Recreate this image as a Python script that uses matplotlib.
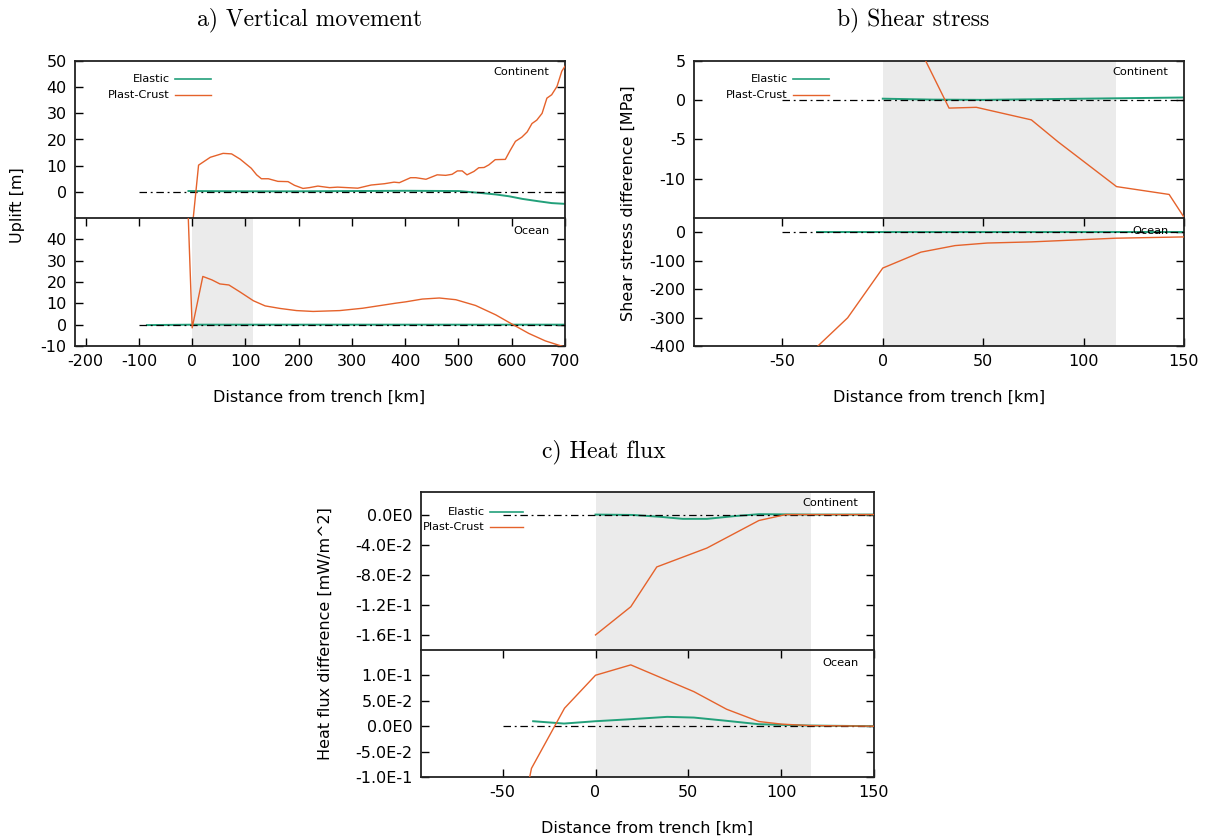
import numpy as np
import matplotlib
matplotlib.use("Agg")
import matplotlib.pyplot as plt

plt.rcParams['axes.unicode_minus'] = False
plt.rcParams['font.family'] = ['DejaVu Sans']

GREEN = '#22a07a'
ORANGE = '#e5622b'
SHADE = '#ebebeb'

# a) vertical movement [m]
a_cont_plast_x = [1, 12, 34, 58, 74, 90, 111, 121, 130, 143, 161, 180, 192, 208, 220, 236, 258, 273, 292, 311,
                  336, 361, 379, 389, 410, 420, 439, 460, 476, 488, 498, 507, 516, 529, 538, 548, 557, 569, 588, 597,
                  607, 619, 629, 638, 647, 657, 666, 675, 685, 694, 700]
a_cont_plast_y = [-12, 10.2, 13.2, 14.7, 14.5, 12.5, 9.0, 6.5, 5.0, 5.0, 4.0, 3.9, 2.5, 1.3, 1.6, 2.2, 1.6, 1.8, 1.6, 1.4,
                  2.6, 3.1, 3.7, 3.5, 5.4, 5.4, 4.8, 6.5, 6.3, 6.7, 8.0, 8.0, 6.5, 7.8, 9.2, 9.3, 10.3, 12.3, 12.4, 15.8,
                  19.3, 20.9, 22.9, 26.1, 27.4, 30, 35.8, 37.1, 40.3, 46.1, 48]
a_cont_el_x = [-7, 100, 200, 300, 400, 500, 540, 570, 595, 620, 650, 675, 700]
a_cont_el_y = [0.3, 0.2, 0.2, 0.3, 0.4, 0.3, -0.4, -1.0, -1.7, -2.7, -3.6, -4.3, -4.6]
a_ocean_plast_x = [-8, 0, 20, 37, 52, 69, 90, 115, 137, 165, 196, 227, 277, 320, 383, 401, 432, 464, 495, 532,
                   570, 601, 632, 663, 688, 700]
a_ocean_plast_y = [55, -1.5, 22.6, 21, 19.1, 18.6, 15.3, 11.2, 8.8, 7.6, 6.6, 6.2, 6.6, 7.7, 10.1, 10.7, 12, 12.5, 11.7, 9.0,
                   4.6, 0.2, -4.1, -7.6, -9.6, -10.5]
a_ocean_el_x = [-85, 0, 200, 400, 600, 700]
a_ocean_el_y = [-0.2, 0.0, 0.0, 0.0, 0.0, 0.0]

# b) shear stress difference [MPa]
b_cont_plast_x = [18.5, 33, 46.6, 74, 87.3, 116.4, 142.6, 150]
b_cont_plast_y = [6.5, -1.0, -0.9, -2.5, -5.3, -11, -12, -14.9]
b_cont_el_x = [0, 25, 50, 100, 150]
b_cont_el_y = [0.2, 0.08, 0.05, 0.2, 0.35]
b_ocean_plast_x = [-35, -17.5, 0, 19, 36, 52, 74, 116, 150]
b_ocean_plast_y = [-418, -301, -126, -70, -47, -38, -34, -21, -16.5]
b_ocean_el_x = [-33, 0, 50, 100, 150]
b_ocean_el_y = [0.5, 0.5, 0.5, 0.5, 0.5]

# c) heat flux difference [mW/m^2]
c_cont_plast_x = [0, 19, 33, 60, 88, 102.5, 150]
c_cont_plast_y = [-0.16, -0.1225, -0.0696, -0.0445, -0.0079, 0.0, 0.0]
c_cont_el_x = [0, 20, 35, 47, 60, 75, 88, 100, 116, 150]
c_cont_el_y = [0, -0.0005, -0.003, -0.0057, -0.0057, -0.002, 0.0005, 0.0003, 0, 0]
c_ocean_plast_x = [-36, -34.5, -16.7, 0, 19, 53, 70.6, 88, 100.5, 115, 150]
c_ocean_plast_y = [-0.11, -0.083, 0.0354, 0.1003, 0.1207, 0.068, 0.0334, 0.0092, 0.004, 0.0013, 0]
c_ocean_el_x = [-33.6, -17, 0, 19, 38.6, 53, 69.5, 88, 115, 150]
c_ocean_el_y = [0.0098, 0.0052, 0.0098, 0.0138, 0.0184, 0.017, 0.011, 0.0039, 0.0013, 0]

a_xticks = [-200, -100, 0, 100, 200, 300, 400, 500, 600, 700]
a_top_yticks = [0, 10, 20, 30, 40, 50]
a_bot_yticks = [-10, 0, 10, 20, 30, 40]
bc_xticks = [-50, 0, 50, 100, 150]
b_top_yticks = [-10, -5, 0, 5]
b_bot_yticks = [-400, -300, -200, -100, 0]
c_top_yticks = [-0.16, -0.12, -0.08, -0.04, 0.0]
c_top_ylabels = ['-1.6E-1', '-1.2E-1', '-8.0E-2', '-4.0E-2', '0.0E0']
c_bot_yticks = [-0.1, -0.05, 0.0, 0.05, 0.1]
c_bot_ylabels = ['-1.0E-1', '-5.0E-2', '0.0E0', '5.0E-2', '1.0E-1']

W, H = 1209, 838
fig = plt.figure(figsize=(W / 100, H / 100), dpi=100)


def box(l, r, t, b):
    return [l / W, 1 - b / H, (r - l) / W, (b - t) / H]


def style(ax, xt=True):
    for s in ax.spines.values():
        s.set_linewidth(1.3)
        s.set_color('#222222')
    ax.tick_params(direction='in', length=6, width=1, labelsize=11.5,
                   left=True, right=True, top=xt, bottom=xt, labelbottom=xt, pad=6)


def panel(l, r, t, m, b, xlim, ylim_top, ylim_bot, shade_top, shade_bot,
          leg_x, leg_y, lab_x=0.968):
    ax1 = fig.add_axes(box(l, r, t, m))
    ax2 = fig.add_axes(box(l, r, m, b))
    ax1.spines['bottom'].set_visible(False)
    style(ax1, xt=False)
    style(ax2)
    for ax, ylim, shade in ((ax1, ylim_top, shade_top), (ax2, ylim_bot, shade_bot)):
        ax.set_xlim(*xlim)
        ax.set_ylim(*ylim)
        if shade:
            ax.axvspan(shade[0], shade[1], color=SHADE, lw=0, zorder=0)
    ax1.text(lab_x, 0.93, 'Continent', transform=ax1.transAxes, ha='right', va='center', fontsize=8.2)
    ax2.text(lab_x, 0.90, 'Ocean', transform=ax2.transAxes, ha='right', va='center', fontsize=8.2)
    # gnuplot-style key: text right-justified, sample to its right
    for yy, name, col in ((leg_y[0], 'Elastic', GREEN), (leg_y[1], 'Plast-Crust', ORANGE)):
        ax1.text(leg_x, yy, name, transform=ax1.transAxes, ha='right', va='center', fontsize=8.2)
        ax1.plot([leg_x + 0.011, leg_x + 0.084], [yy, yy], transform=ax1.transAxes,
                 color=col, lw=1.2 if col == GREEN else 1.0, clip_on=False)
    return ax1, ax2


def curves(ax, ex, ey, px, py, z0, z1):
    ax.plot(ex, ey, color=GREEN, lw=1.4, zorder=2)
    ax.plot([z0, z1], [0, 0], color='black', lw=0.9, ls=(0, (6, 3, 1.5, 3)), zorder=3)
    ax.plot(px, py, color=ORANGE, lw=1.0, zorder=4)


# a) Vertical movement
a1, a2 = panel(75, 565, 61, 218, 346, (-220, 700), (-10, 50), (-10, 50), None, (0, 115),
               0.194, (0.885, 0.783))
curves(a1, a_cont_el_x, a_cont_el_y, a_cont_plast_x, a_cont_plast_y, -100, 700)
curves(a2, a_ocean_el_x, a_ocean_el_y, a_ocean_plast_x, a_ocean_plast_y, -100, 700)
a1.set_yticks(a_top_yticks)
a2.set_yticks(a_bot_yticks)
a2.set_xticks(a_xticks)

# b) Shear stress
b1, b2 = panel(694, 1184, 61, 218, 346, (-94, 150), (-15, 5), (-400, 50), (0, 116), (0, 116),
               0.192, (0.885, 0.783))
curves(b1, b_cont_el_x, b_cont_el_y, b_cont_plast_x, b_cont_plast_y, -50, 150)
curves(b2, b_ocean_el_x, b_ocean_el_y, b_ocean_plast_x, b_ocean_plast_y, -50, 150)
b1.set_yticks(b_top_yticks)
b2.set_yticks(b_bot_yticks)
b2.set_xticks(bc_xticks)

# c) Heat flux
c1, c2 = panel(421, 874, 492, 650, 777, (-94, 150), (-0.18, 0.03), (-0.1, 0.15), (0, 116), (0, 116),
               0.141, (0.873, 0.778), lab_x=0.966)
curves(c1, c_cont_el_x, c_cont_el_y, c_cont_plast_x, c_cont_plast_y, -50, 150)
curves(c2, c_ocean_el_x, c_ocean_el_y, c_ocean_plast_x, c_ocean_plast_y, -50, 150)
c1.set_yticks(c_top_yticks, c_top_ylabels)
c2.set_yticks(c_bot_yticks, c_bot_ylabels)
c2.set_xticks(bc_xticks)

# titles and axis labels
tkw = dict(family='cmr10', fontsize=17, ha='center', va='center')
fig.text(310 / W, 1 - 20 / H, 'a) Vertical movement', **tkw)
fig.text(913 / W, 1 - 20 / H, 'b) Shear stress', **tkw)
fig.text(604 / W, 1 - 452 / H, 'c) Heat flux', **tkw)

lkw = dict(fontsize=11.5, ha='center', va='center')
fig.text(319 / W, 1 - 397 / H, 'Distance from trench [km]', **lkw)
fig.text(939 / W, 1 - 397 / H, 'Distance from trench [km]', **lkw)
fig.text(647 / W, 1 - 828 / H, 'Distance from trench [km]', **lkw)
fig.text(18 / W, 1 - 205 / H, 'Uplift [m]', rotation=90, **lkw)
fig.text(628 / W, 1 - 203 / H, 'Shear stress difference [MPa]', rotation=90, **lkw)
fig.text(325 / W, 1 - 634 / H, 'Heat flux difference [mW/m^2]', rotation=90, **lkw)

fig.savefig('out.png', dpi=100)
